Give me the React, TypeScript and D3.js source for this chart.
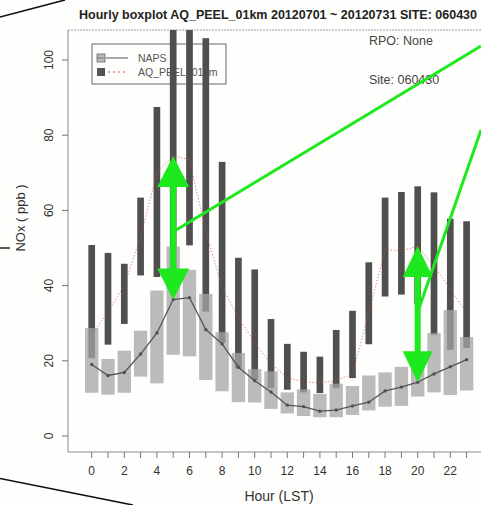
import React from "react";
import * as d3 from "d3";

// Hour of day (LST)
const HOURS = [0, 1, 2, 3, 4, 5, 6, 7, 8, 9, 10, 11, 12, 13, 14, 15, 16, 17, 18, 19, 20, 21, 22, 23];

// NAPS observations: box low / high edges and median (ppb)
const NAPS_LOW = [11.5, 11.0, 11.5, 15.8, 14.0, 21.6, 21.2, 14.9, 11.9, 9.0, 8.9, 7.2, 6.0, 5.3, 5.0, 5.0, 5.6, 6.8, 7.8, 8.0, 10.5, 11.6, 10.9, 12.1];
const NAPS_HIGH = [28.7, 20.5, 22.7, 28.0, 38.7, 50.4, 44.2, 37.8, 27.6, 22.1, 17.8, 17.2, 11.6, 12.4, 11.2, 13.9, 13.3, 16.1, 16.9, 18.4, 19.5, 27.4, 33.5, 26.3];
const NAPS_MED = [19.0, 16.1, 16.9, 21.8, 27.4, 36.3, 36.8, 28.3, 24.5, 18.3, 14.7, 11.7, 8.2, 7.8, 6.6, 6.9, 8.0, 9.0, 12.0, 13.0, 14.3, 16.5, 18.4, 20.3];

// AQ_PEEL_01km model: box low / high edges and median (ppb)
const AQ_LOW = [20.7, 24.3, 29.8, 42.7, 42.3, 44.0, 50.7, 33.1, 24.7, 18.0, 14.9, 12.7, 12.3, 11.6, 11.4, 12.7, 15.4, 24.4, 37.1, 37.6, 35.0, 26.9, 22.9, 23.4];
const AQ_HIGH = [50.8, 48.7, 45.8, 63.4, 87.5, 118, 116, 105.8, 72.9, 47.4, 44.3, 31.1, 24.5, 22.4, 21.1, 28.2, 33.3, 46.2, 63.4, 64.9, 66.4, 64.8, 57.8, 57.1];
const AQ_MED = [27.0, 33.0, 40.0, 53.0, 70.0, 74.5, 73.5, 54.4, 39.5, 31.5, 24.8, 19.2, 15.5, 14.4, 14.1, 14.7, 16.5, 32.8, 49.6, 49.2, 50.5, 45.2, 39.0, 32.8];

const X_TICK_LABELS = [0, 2, 4, 6, 8, 10, 12, 14, 16, 18, 20, 22];
const Y_TICKS = [0, 20, 40, 60, 80, 100];

// Hours picked out with the green double arrows
const HIGHLIGHT_HOURS = [5, 20];

const TITLE = "Hourly boxplot AQ_PEEL_01km 20120701 ~ 20120731 SITE: 060430";
const FONT = "'Liberation Sans', Arial, Helvetica, sans-serif";

const W = 481;
const H = 505;
const PLOT = { left: 68, right: 481, top: 30, bottom: 452 };

function doubleArrow(cx: number, y1: number, y2: number, headLen: number, headHalf: number, shaftHalf: number) {
  return [
    `M${cx},${y1}`,
    `L${cx + headHalf},${y1 + headLen}`,
    `L${cx + shaftHalf},${y1 + headLen}`,
    `L${cx + shaftHalf},${y2 - headLen}`,
    `L${cx + headHalf},${y2 - headLen}`,
    `L${cx},${y2}`,
    `L${cx - headHalf},${y2 - headLen}`,
    `L${cx - shaftHalf},${y2 - headLen}`,
    `L${cx - shaftHalf},${y1 + headLen}`,
    `L${cx - headHalf},${y1 + headLen}`,
    "Z",
  ].join(" ");
}

export default function App() {
  const x = d3.scaleLinear().domain([0, 22]).range([91.7, 450.3]);
  const y = d3.scaleLinear().domain([0, 100]).range([436, 60]);
  const step = x(1) - x(0);
  const napsW = step * 0.82;
  const aqW = step * 0.41;

  const medLine = d3
    .line<number>()
    .x((_, i) => x(HOURS[i]))
    .y((d) => y(d));

  const arrows = HIGHLIGHT_HOURS.map((h) => {
    const cx = x(h);
    const yTop = y(AQ_MED[h]);
    const yBot = y(NAPS_MED[h]);
    return { h, cx, yTop, yBot, mid: (yTop + yBot) / 2 };
  });

  return (
    <div style={{ position: "absolute", left: 0, top: 0, width: W, height: H, background: "#fff" }}>
      <svg width={W} height={H} style={{ display: "block" }} fontFamily={FONT}>
        <defs>
          <clipPath id="plotClip">
            <rect x={PLOT.left} y={PLOT.top} width={PLOT.right - PLOT.left} height={PLOT.bottom - PLOT.top} />
          </clipPath>
        </defs>
        <rect x={0} y={0} width={W} height={H} fill="#fefefc" />

        {/* title */}
        <text x={79} y={19} fontSize={12.5} fontWeight="bold" fill="#222">
          {TITLE}
        </text>

        {/* frame */}
        <line x1={PLOT.left} x2={PLOT.right} y1={PLOT.top} y2={PLOT.top} stroke="#9a9a9a" strokeWidth={1} strokeDasharray="2,1" />
        <line x1={PLOT.left} x2={PLOT.left} y1={PLOT.top} y2={PLOT.bottom} stroke="#8a8a8a" strokeWidth={1} />
        <line x1={PLOT.left} x2={PLOT.right} y1={PLOT.bottom} y2={PLOT.bottom} stroke="#8a8a8a" strokeWidth={1} />

        {/* y axis */}
        {Y_TICKS.map((t) => (
          <g key={`y${t}`}>
            <line x1={PLOT.left - 6} x2={PLOT.left} y1={y(t)} y2={y(t)} stroke="#777" />
            <text
              transform={`translate(${49},${y(t)}) rotate(-90)`}
              textAnchor="middle"
              dominantBaseline="central"
              fontSize={12}
              fill="#333"
            >
              {t}
            </text>
          </g>
        ))}
        <text transform="translate(20,218) rotate(-90)" textAnchor="middle" dominantBaseline="central" fontSize={13} fill="#333">
          NOx ( ppb )
        </text>

        {/* x axis */}
        {HOURS.map((h) => (
          <line key={`xt${h}`} x1={x(h)} x2={x(h)} y1={PLOT.bottom} y2={PLOT.bottom + 6} stroke="#777" />
        ))}
        {X_TICK_LABELS.map((t) => (
          <text key={`xl${t}`} x={x(t)} y={475} textAnchor="middle" fontSize={12} fill="#333">
            {t}
          </text>
        ))}
        <text x={279} y={501} textAnchor="middle" fontSize={14} fill="#333">
          Hour (LST)
        </text>

        {/* legend */}
        <g>
          <rect x={92} y={44} width={134} height={40} fill="none" stroke="#666" strokeWidth={1} />
          <rect x={97} y={54} width={8} height={8} fill="#bbb" stroke="#666" strokeWidth={0.8} />
          <line x1={97} x2={105} y1={58} y2={58} stroke="#666" strokeWidth={0.8} />
          <line x1={106} x2={128} y1={58} y2={58} stroke="#555" strokeWidth={1} />
          <text x={138} y={62} fontSize={10.5} fill="#555">NAPS</text>
          <rect x={97} y={68} width={8} height={8} fill="#555" />
          <line x1={108} x2={128} y1={72} y2={72} stroke="#d05050" strokeWidth={1} strokeDasharray="2,3" />
          <text x={138} y={76} fontSize={10.5} fill="#555">AQ_PEEL_01km</text>
        </g>

        <text x={369} y={45} fontSize={12.5} fill="#444">RPO: None</text>
        <text x={369} y={84} fontSize={12.5} fill="#444">Site: 060430</text>

        <g clipPath="url(#plotClip)">
          {/* model boxes */}
          {HOURS.map((h, i) => (
            <rect
              key={`aq${h}`}
              x={x(h) - aqW / 2}
              y={y(AQ_HIGH[i])}
              width={aqW}
              height={y(AQ_LOW[i]) - y(AQ_HIGH[i])}
              fill="#4f4f4f"
            />
          ))}
          {/* observation boxes */}
          {HOURS.map((h, i) => (
            <rect
              key={`naps${h}`}
              x={x(h) - napsW / 2}
              y={y(NAPS_HIGH[i])}
              width={napsW}
              height={y(NAPS_LOW[i]) - y(NAPS_HIGH[i])}
              fill="#a4a4a4"
              fillOpacity={0.75}
            />
          ))}
          {/* observation medians */}
          <path d={medLine(NAPS_MED) ?? ""} fill="none" stroke="#555" strokeWidth={1.3} />
          {HOURS.map((h, i) => (
            <circle key={`nm${h}`} cx={x(h)} cy={y(NAPS_MED[i])} r={1.7} fill="#505050" />
          ))}
          {/* model medians */}
          <path d={medLine(AQ_MED) ?? ""} fill="none" stroke="#d04848" strokeOpacity={0.75} strokeWidth={1} strokeDasharray="1.2,2" />
        </g>

        {/* green call-outs */}
        {arrows.map((a, k) => (
          <path key={`ar${a.h}`} d={doubleArrow(a.cx, a.yTop, a.yBot, k === 0 ? 31 : 31, k === 0 ? 16 : 15, 3)} fill="#1ee81e" />
        ))}
        <line x1={481} y1={46} x2={arrows[0].cx} y2={arrows[0].mid + 4} stroke="#1ee81e" strokeWidth={3} />
        <line x1={481} y1={130} x2={arrows[1].cx} y2={arrows[1].mid - 2} stroke="#1ee81e" strokeWidth={3} />

        {/* black connector lines */}
        <line x1={0} y1={17} x2={65} y2={0} stroke="#111" strokeWidth={1.6} />
        <line x1={0} y1={248} x2={10} y2={248} stroke="#111" strokeWidth={1.4} />
        <line x1={0} y1={478.5} x2={133} y2={505} stroke="#111" strokeWidth={1.6} />
      </svg>
    </div>
  );
}
